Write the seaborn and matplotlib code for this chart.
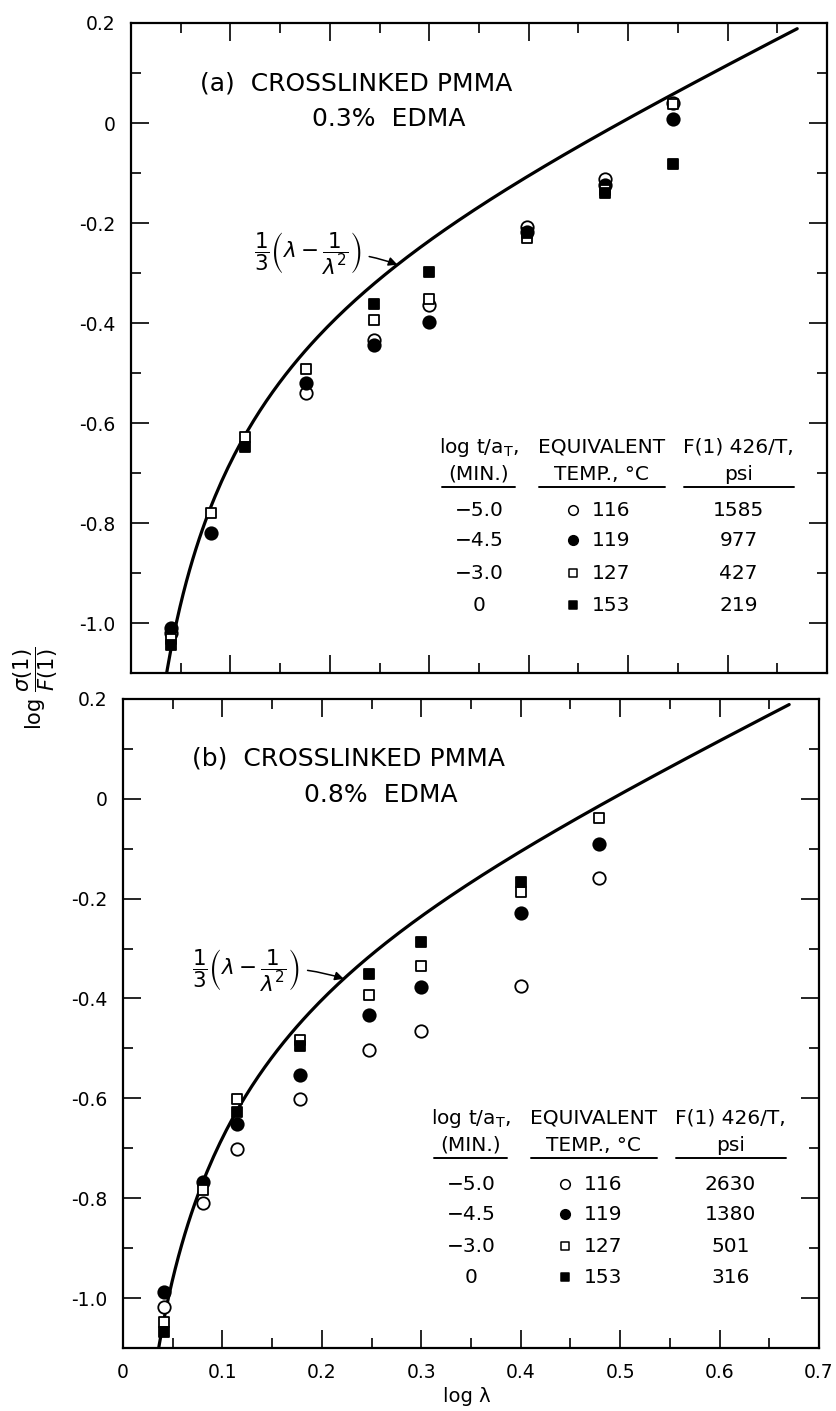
import numpy as np
import pandas as pd
import matplotlib
matplotlib.use("Agg")
import matplotlib.pyplot as plt
import seaborn as sns

sns.set_style("ticks")
plt.rcParams["font.family"] = ["DejaVu Sans"]
plt.rcParams["mathtext.fontset"] = "dejavusans"
for key in ["text.color", "axes.labelcolor", "xtick.color", "ytick.color", "axes.edgecolor"]:
    plt.rcParams[key] = "black"

# ---- measured points: log(sigma(1)/F(1)) against log(lambda) ----
nan = np.nan
x_a = [0.040, 0.080, 0.115, 0.176, 0.244, 0.300, 0.398, 0.477, 0.545]
a_open_circle = [-1.020, nan, nan, -0.540, -0.434, -0.364, -0.208, -0.112, 0.040]
a_filled_circle = [-1.010, -0.820, nan, -0.520, -0.444, -0.398, -0.218, -0.124, 0.008]
a_open_square = [-1.032, -0.780, -0.628, -0.492, -0.394, -0.352, -0.230, -0.134, 0.038]
a_filled_square = [-1.044, nan, -0.648, nan, -0.362, -0.298, -0.220, -0.140, -0.082]

x_b = [0.041, 0.080, 0.115, 0.178, 0.247, 0.300, 0.400, 0.479]
b_open_circle = [-1.018, -0.810, -0.702, -0.602, -0.504, -0.466, -0.376, -0.158]
b_filled_circle = [-0.988, -0.768, -0.652, -0.554, -0.434, -0.378, -0.228, -0.090]
b_open_square = [-1.048, -0.784, -0.602, -0.484, -0.394, -0.336, -0.186, -0.038]
b_filled_square = [-1.068, nan, -0.628, -0.496, -0.352, -0.286, -0.166, nan]

# legend table contents
log_t_aT = ["\u22125.0", "\u22124.5", "\u22123.0", "0"]
equiv_temp = ["116", "119", "127", "153"]
f1_a = ["1585", "977", "427", "219"]
f1_b = ["2630", "1380", "501", "316"]

x_ticks = [0, 0.1, 0.2, 0.3, 0.4, 0.5, 0.6, 0.7]
x_ticklabels = ["0", "0.1", "0.2", "0.3", "0.4", "0.5", "0.6", "0.7"]
y_ticks = [0.2, 0.0, -0.2, -0.4, -0.6, -0.8, -1.0]
y_ticklabels = ["0.2", "0", "-0.2", "-0.4", "-0.6", "-0.8", "-1.0"]

# rubber-elasticity curve, log[(1/3)(lambda - 1/lambda^2)]
loglam = np.linspace(0.03, 0.67, 200)
lam = 10 ** loglam
theory = np.log10((lam - 1.0 / lam ** 2) / 3.0)
curve = pd.DataFrame({"loglam": loglam, "theory": theory})

styles = [
    ("open_circle", "o", "white", 80),
    ("filled_circle", "o", "black", 80),
    ("open_square", "s", "white", 60),
    ("filled_square", "s", "black", 60),
]

fig = plt.figure(figsize=(8.37, 14.11), dpi=100)
ax_a = fig.add_axes([0.1565, 0.523, 0.8316, 0.4607])
ax_b = fig.add_axes([0.147, 0.0447, 0.8315, 0.46])

FORMULA = r"$\dfrac{1}{3}\left(\lambda - \dfrac{1}{\lambda^2}\right)$"


def draw_panel(ax, xs, series, title, pct, f1, ann_xy, ann_text_xy, hdr_y, rows_y):
    sns.lineplot(data=curve, x="loglam", y="theory", ax=ax, color="black",
                 linewidth=2.3, estimator=None, sort=False, zorder=2)
    for (name, mk, fc, s), ys in zip(styles, series):
        df = pd.DataFrame({"x": xs, "y": ys}).dropna()
        sns.scatterplot(data=df, x="x", y="y", ax=ax, marker=mk, s=s,
                        facecolor=fc, edgecolor="black", linewidth=1.3,
                        zorder=3, legend=False)
    ax.set_xlim(0, 0.7)
    ax.set_ylim(-1.1, 0.2)
    ax.set_xlabel("")
    ax.set_ylabel("")
    ax.set_xticks(x_ticks)
    ax.set_xticks(np.arange(0.05, 0.7, 0.1), minor=True)
    ax.set_yticks(y_ticks)
    ax.set_yticks(np.arange(-1.1, 0.2, 0.2), minor=True)
    ax.set_yticklabels(y_ticklabels)
    ax.tick_params(which="both", direction="in", top=True, right=True,
                   width=1.2, labelsize=13.5, pad=11)
    ax.tick_params(which="major", length=13)
    ax.tick_params(which="minor", length=7)
    for sp in ax.spines.values():
        sp.set_visible(True)
        sp.set_linewidth(1.6)

    ax.text(0.069, 0.080, title, fontsize=18, ha="left", va="center")
    ax.text(0.182, 0.008, pct, fontsize=18, ha="left", va="center")

    ax.annotate(FORMULA, xy=ann_xy, xytext=ann_text_xy,
                fontsize=15.5, ha="center", va="center",
                arrowprops=dict(arrowstyle="-|>", color="black", lw=1.1,
                                shrinkA=3, shrinkB=0, mutation_scale=13,
                                connectionstyle="arc3,rad=-0.12"))

    # table-style key
    fs = 14.5
    c1, c2, c3 = 0.35, 0.473, 0.611
    ax.text(c1, hdr_y, r"log t/a$_{\rm T}$,", fontsize=fs, ha="center", va="center")
    ax.text(c1, hdr_y - 0.054, "(MIN.)", fontsize=fs, ha="center", va="center")
    ax.text(c2, hdr_y, "EQUIVALENT", fontsize=fs, ha="center", va="center")
    ax.text(c2, hdr_y - 0.054, "TEMP., \u00b0C", fontsize=fs, ha="center", va="center")
    ax.text(c3, hdr_y, "F(1) 426/T,", fontsize=fs, ha="center", va="center")
    ax.text(c3, hdr_y - 0.054, "psi", fontsize=fs, ha="center", va="center")
    uy = hdr_y - 0.08
    for x0, x1 in [(0.313, 0.386), (0.410, 0.537), (0.556, 0.667)]:
        ax.plot([x0, x1], [uy, uy], color="black", lw=1.4)
    for i, ry in enumerate(rows_y):
        name, mk, fc, s = styles[i]
        ax.text(c1, ry, log_t_aT[i], fontsize=fs, ha="center", va="center")
        ax.scatter([0.445], [ry], marker=mk, s=s * 0.6, facecolor=fc,
                   edgecolor="black", linewidth=1.1, zorder=3)
        ax.text(0.463, ry, equiv_temp[i], fontsize=fs, ha="left", va="center")
        ax.text(c3, ry, f1[i], fontsize=fs, ha="center", va="center")


def theory_at(v):
    l = 10 ** v
    return np.log10((l - 1.0 / l ** 2) / 3.0)


draw_panel(ax_a, x_a, [a_open_circle, a_filled_circle, a_open_square, a_filled_square],
           "(a)  CROSSLINKED PMMA", "0.3%  EDMA", f1_a,
           (0.268, theory_at(0.268)), (0.178, -0.262),
           -0.648, [-0.774, -0.834, -0.900, -0.964])
draw_panel(ax_b, x_b, [b_open_circle, b_filled_circle, b_open_square, b_filled_square],
           "(b)  CROSSLINKED PMMA", "0.8%  EDMA", f1_b,
           (0.222, theory_at(0.222)), (0.124, -0.345),
           -0.640, [-0.772, -0.832, -0.896, -0.958])

ax_a.set_xticklabels([])
ax_b.set_xticklabels(x_ticklabels)

fig.text(0.043, 0.512, r"$\log\,\dfrac{\sigma(1)}{F(1)}$", rotation=90,
         fontsize=15, ha="center", va="center")
fig.text(467 / 837, 1 - 1397 / 1411, "log \u03bb", fontsize=14,
         ha="center", va="center")

fig.savefig("out.png", dpi=100, facecolor="white")
